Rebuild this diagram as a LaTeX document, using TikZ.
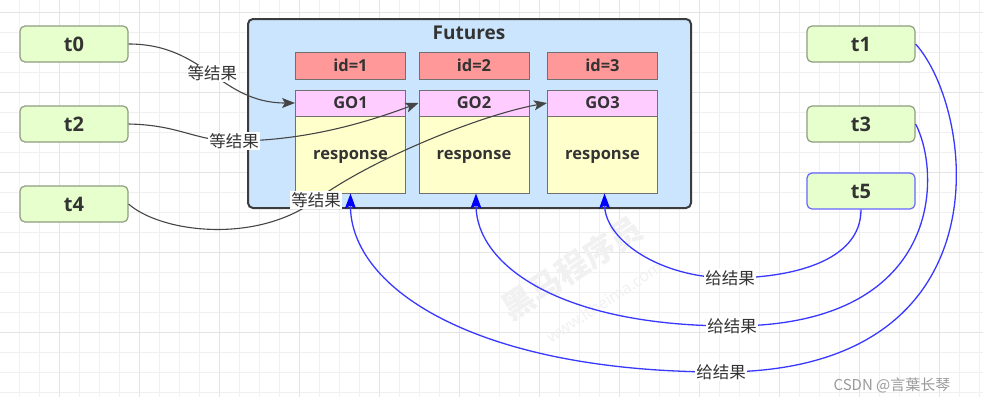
\documentclass[tikz,border=0pt]{standalone}
\usepackage{fontspec}
\setmainfont{Open Sans}
\newfontfamily\cjk{Noto Sans CJK SC}
\usetikzlibrary{arrows.meta}
\definecolor{gridc}{HTML}{F0F0F0}
\definecolor{gridm}{HTML}{E4E4E4}
\definecolor{tfill}{HTML}{E6FFCC}
\definecolor{tdraw}{HTML}{8F9E80}
\definecolor{tblue}{HTML}{6666FF}
\definecolor{futfill}{HTML}{CCE5FF}
\definecolor{futdraw}{HTML}{3C3C3C}
\definecolor{idfill}{HTML}{FF9999}
\definecolor{gofill}{HTML}{FFCCFF}
\definecolor{respfill}{HTML}{FFFFCC}
\definecolor{boxdraw}{HTML}{707070}
\definecolor{txt}{HTML}{333333}
\definecolor{garrow}{HTML}{454545}
\definecolor{barrow}{HTML}{3838FF}
\definecolor{bhead}{HTML}{0000FF}
\definecolor{wmc}{HTML}{F1F1F1}
\definecolor{csdn}{HTML}{9A9A9A}
\begin{document}
\begin{tikzpicture}[x=1pt,y=-1pt,
  thread/.style={draw=tdraw, fill=tfill, line width=1.2pt, rounded corners=5pt,
    minimum width=108pt, minimum height=36pt, inner sep=0pt,
    font=\bfseries\fontsize{20}{22}\selectfont, text=txt},
  futbox/.style={draw=futdraw, fill=futfill, line width=2pt, rounded corners=5pt,
    minimum width=443pt, minimum height=189pt, inner sep=0pt},
  titletext/.style={font=\bfseries\fontsize{19}{21}\selectfont, text=txt, inner sep=0pt},
  cell/.style={draw=boxdraw, line width=1pt, minimum width=110pt, inner sep=0pt,
    font=\bfseries\fontsize{16.5}{18}\selectfont, text=txt},
  idcell/.style={cell, fill=idfill, minimum height=27pt},
  gocell/.style={cell, fill=gofill, minimum height=26pt},
  respcell/.style={cell, fill=respfill, minimum height=77pt, text depth=0pt},
  lbl/.style={fill=white, inner sep=1pt, font=\cjk\fontsize{16.5}{18}\selectfont, text=txt},
  grayarrow/.style={draw=garrow, line width=1.1pt, -{Stealth[length=13pt,width=10pt,inset=3pt]}},
  bluearrow/.style={draw=barrow, line width=1.3pt, -{Stealth[length=15pt,width=11pt,inset=3pt,color=bhead]}},
  gridminor/.style={draw=gridc, line width=0.8pt},
  gridmajor/.style={draw=gridm, line width=1pt},
  wmark/.style={rotate=33, text=wmc, inner sep=0pt}
]
\useasboundingbox[fill=white] (0,0) rectangle (983,407);
% grid
\foreach \x in {-1,19,...,979} \draw[gridminor] (\x,0) -- (\x,397);
\foreach \y in {12,32,...,392} \draw[gridminor] (0,\y) -- (983,\y);
\foreach \x in {59,139,...,939} \draw[gridmajor] (\x,0) -- (\x,397);
\foreach \y in {12,92,...,332} \draw[gridmajor] (0,\y) -- (983,\y);
% watermark
\node[wmark, font=\cjk\bfseries\fontsize{32}{34}\selectfont] (wm1) at (572,268) {黑马程序员};
\node[wmark, font=\fontsize{16}{18}\selectfont] (wm2) at (604,302) {www.itheima.com};
% threads
\node[thread] (t0) at (74,44) {t0};
\node[thread] (t2) at (74,124) {t2};
\node[thread] (t4) at (74,204) {t4};
\node[thread] (t1) at (861,44) {t1};
\node[thread] (t3) at (861,124) {t3};
\node[thread, draw=tblue] (t5) at (861,191) {t5};
% futures
\node[futbox] (fut) at (469.5,113.5) {};
\node[titletext] (futt) at (469,32.5) {Futures};
\node[idcell] (id1) at (350.5,65.5) {id=1};
\node[idcell] (id2) at (474,65.5) {id=2};
\node[idcell] (id3) at (602.5,65.5) {id=3};
\node[gocell] (go1) at (350.5,103) {GO1};
\node[gocell] (go2) at (474,103) {GO2};
\node[gocell] (go3) at (602.5,103) {GO3};
\node[respcell] (r1) at (350.5,154.5) {response};
\node[respcell] (r2) at (474,154.5) {response};
\node[respcell] (r3) at (602.5,154.5) {response};
% waiting arrows
\draw[grayarrow] (t0.east) .. controls (205,44) and (220,103) .. node[lbl]{等结果} (go1.west);
\draw[grayarrow] (t2.east) .. controls (180,125) and (195,141) .. (234,141) node[lbl]{等结果}
   .. controls (300,141) and (360,125) .. (go2.west);
\draw[grayarrow] (t4.east) .. controls (160,232) and (255,245) .. (316,200) node[lbl]{等结果}
   .. controls (370,160) and (480,115) .. (go3.west);
% result arrows
\draw[bluearrow] (t5.south) .. controls (861,262) and (790,278) .. (730,278) node[lbl]{给结果}
   .. controls (660,278) and (605,240) .. ([xshift=2pt]r3.south);
\draw[bluearrow] (t3.east) .. controls (942,175) and (942,326) .. (732,326) node[lbl]{给结果}
   .. controls (560,326) and (476,265) .. ([xshift=2pt]r2.south);
\draw[bluearrow] (t1.east) .. controls (975,110) and (1010,372) .. (721,372) node[lbl]{给结果}
   .. controls (480,372) and (350,290) .. (r1.south);
% credit
\node[font=\cjk\fontsize{15}{16}\selectfont, text=csdn, inner sep=0pt] (credit) at (892,385) {CSDN @言葉长琴};
\end{tikzpicture}
\end{document}
